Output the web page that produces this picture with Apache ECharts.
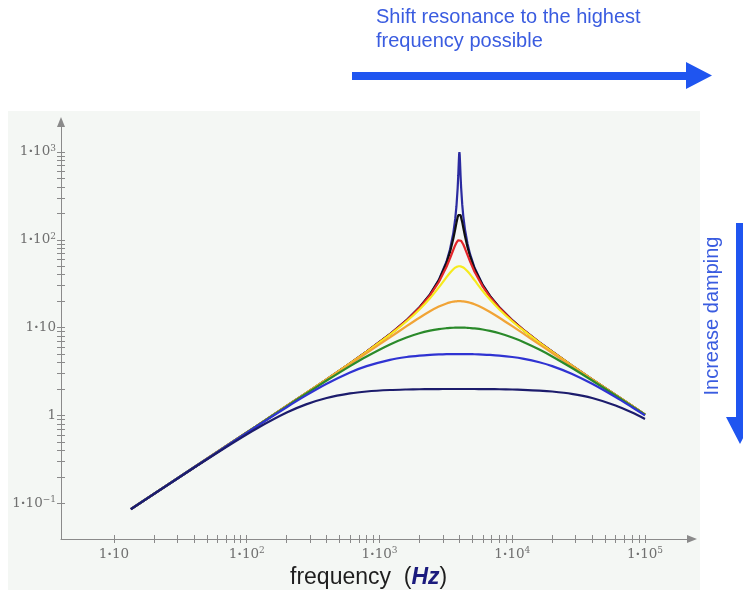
<!DOCTYPE html>
<html>
<head>
<meta charset="utf-8">
<script src="https://cdn.jsdelivr.net/npm/echarts@6/dist/echarts.min.js"></script>
<style>html,body{margin:0;padding:0;background:#fff;}#c{width:743px;height:590px;}</style>
</head>
<body>
<div id="c"></div>
<script>
// Frequencies (Hz)
const freq = [13.4, 20, 40, 80, 120, 200, 280, 400, 600, 800, 1200, 1600, 2000, 2400, 2800, 3200, 3400, 3600, 3720, 3800, 3880, 3920, 3960, 3980, 4000, 4020, 4040, 4080, 4120, 4200, 4280, 4400, 4600, 4800, 5200, 6000, 6800, 8000, 10000, 12000, 16000, 20000, 28000, 40000, 60000, 80000, 100000];

// Response curves, from least to most damping
const peak1000 = [0.0855, 0.1276, 0.2552, 0.5106, 0.7663, 1.279, 1.795, 2.578, 3.916, 5.317, 8.413, 12.15, 17.01, 23.92, 35.01, 56.62, 77.93, 120.0, 173.0, 241.3, 386.3, 534.0, 785.7, 930.6, 1000, 931.5, 788.7, 541.7, 396.3, 252.9, 185.2, 132.5, 90.63, 69.43, 48.03, 30.61, 22.95, 17.01, 12.15, 9.570, 6.805, 5.317, 3.722, 2.578, 1.709, 1.279, 1.022];
const peak200 = [0.0855, 0.1276, 0.2552, 0.5106, 0.7663, 1.279, 1.795, 2.578, 3.915, 5.315, 8.406, 12.13, 16.95, 23.76, 34.50, 54.56, 72.81, 103.5, 132.0, 155.9, 180.5, 190.7, 197.6, 199.4, 200, 199.4, 197.6, 191.0, 181.5, 158.9, 137.2, 111.1, 82.83, 65.73, 46.75, 30.27, 22.81, 16.95, 12.13, 9.559, 6.801, 5.315, 3.721, 2.578, 1.709, 1.279, 1.022];
const peak100 = [0.0855, 0.1276, 0.2552, 0.5106, 0.7663, 1.279, 1.795, 2.577, 3.913, 5.309, 8.384, 12.06, 16.77, 23.27, 33.06, 49.33, 61.58, 77.05, 86.91, 92.78, 97.27, 98.77, 99.69, 99.92, 100, 99.92, 99.69, 98.81, 97.42, 93.40, 88.33, 80.07, 67.30, 57.12, 43.33, 29.28, 22.37, 16.77, 12.06, 9.527, 6.790, 5.309, 3.719, 2.577, 1.709, 1.279, 1.022];
const peak50 = [0.0855, 0.1276, 0.2552, 0.5106, 0.7662, 1.279, 1.794, 2.574, 3.904, 5.287, 8.297, 11.81, 16.11, 21.58, 28.69, 37.51, 42.12, 46.20, 48.09, 49.02, 49.65, 49.85, 49.96, 49.99, 50, 49.99, 49.96, 49.85, 49.67, 49.11, 48.33, 46.83, 43.82, 40.61, 34.66, 26.12, 20.86, 16.11, 11.81, 9.399, 6.743, 5.287, 3.711, 2.574, 1.708, 1.279, 1.022];
const peak20 = [0.0855, 0.1276, 0.2552, 0.5104, 0.7657, 1.277, 1.788, 2.557, 3.843, 5.138, 7.755, 10.39, 12.96, 15.35, 17.37, 18.86, 19.38, 19.73, 19.87, 19.94, 19.98, 19.99, 20.00, 20.00, 20, 20.00, 20.00, 19.99, 19.98, 19.94, 19.89, 19.78, 19.54, 19.22, 18.47, 16.75, 15.08, 12.96, 10.39, 8.633, 6.443, 5.138, 3.659, 2.557, 1.703, 1.277, 1.021];
const peak10 = [0.0855, 0.1276, 0.2551, 0.5099, 0.7640, 1.269, 1.767, 2.496, 3.646, 4.694, 6.438, 7.722, 8.621, 9.226, 9.616, 9.848, 9.919, 9.966, 9.984, 9.992, 9.997, 9.999, 10.0, 10.0, 10, 10.0, 10.0, 9.999, 9.997, 9.993, 9.986, 9.972, 9.940, 9.898, 9.790, 9.506, 9.168, 8.621, 7.722, 6.914, 5.626, 4.694, 3.488, 2.496, 1.685, 1.269, 1.017];
const peak5 = [0.0855, 0.1276, 0.2549, 0.5080, 0.7574, 1.239, 1.690, 2.291, 3.083, 3.642, 4.298, 4.624, 4.797, 4.894, 4.950, 4.981, 4.990, 4.996, 4.998, 4.999, 5.000, 5.000, 5.000, 5.000, 5, 5.000, 5.000, 5.000, 5.000, 4.999, 4.998, 4.997, 4.993, 4.987, 4.973, 4.935, 4.886, 4.797, 4.624, 4.432, 4.029, 3.642, 2.986, 2.291, 1.617, 1.239, 1.002];
const peak2 = [0.0854, 0.1273, 0.2532, 0.4947, 0.7156, 1.078, 1.336, 1.580, 1.781, 1.872, 1.946, 1.974, 1.986, 1.993, 1.997, 1.999, 2.000, 2.000, 2.000, 2.000, 2.000, 2.000, 2.000, 2.000, 2, 2.000, 2.000, 2.000, 2.000, 2.000, 2.000, 2.000, 2.000, 1.999, 1.998, 1.996, 1.993, 1.986, 1.974, 1.958, 1.919, 1.872, 1.762, 1.580, 1.299, 1.078, 0.9104];

const seriesValues = [peak1000, peak200, peak100, peak50, peak20, peak10, peak5, peak2];
const seriesColors = ['#2b2ba0', '#111111', '#e3262a', '#f6ea1e', '#f1a436', '#2a8a2a', '#2f33d2', '#1c1c6c'];

// Axis labels
const xLabelValues = [10, 100, 1000, 10000, 100000];
const xLabelTexts = ['{b|1}{d|·}{b|10}', '{b|1}{d|·}{b|10}{s|2}', '{b|1}{d|·}{b|10}{s|3}', '{b|1}{d|·}{b|10}{s|4}', '{b|1}{d|·}{b|10}{s|5}'];
const yLabelValues = [0.1, 1, 10, 100, 1000];
const yLabelTexts = ['{b|1}{d|·}{b|10}{s|−1}', '{b|1}', '{b|1}{d|·}{b|10}', '{b|1}{d|·}{b|10}{s|2}', '{b|1}{d|·}{b|10}{s|3}'];

// Tick positions (1..9 per decade)
const xTicks = [];
for (let d = 1; d <= 4; d++) for (let k = 1; k <= 9; k++) xTicks.push(k * Math.pow(10, d));
xTicks.push(100000);
const yTicks = [];
for (let d = -1; d <= 2; d++) for (let k = 1; k <= 9; k++) yTicks.push(k * Math.pow(10, d));
yTicks.push(1000);

const axisGray = '#8a8a8a';
const labelColor = '#707070';
const labelRich = {
  b: { fontFamily: 'DejaVu Serif', fontSize: 13.5, color: labelColor, lineHeight: 16 },
  d: { fontFamily: 'DejaVu Serif', fontSize: 13.5, fontWeight: 'bold', color: labelColor, lineHeight: 16 },
  s: { fontFamily: 'DejaVu Serif', fontSize: 9, color: labelColor, lineHeight: 8, verticalAlign: 'top' }
};
function labelFor(values, texts) {
  return function (v) {
    const e = Math.round(Math.log10(v));
    for (let i = 0; i < values.length; i++) {
      if (Math.round(Math.log10(values[i])) === e) return texts[i];
    }
    return '';
  };
}

const X_MIN = 3.99, X_MAX = 226000, Y_MIN = 0.03912, Y_MAX = 2196;

const chart = echarts.init(document.getElementById('c'), null, { renderer: 'canvas' });
chart.setOption({
  animation: false,
  backgroundColor: '#ffffff',
  grid: { left: 61, top: 122, right: 51, bottom: 51, containLabel: false },
  xAxis: [
    {
      type: 'log', min: X_MIN, max: X_MAX, position: 'bottom',
      axisLine: { show: true, symbol: ['none', 'triangle'], symbolSize: [8, 10], lineStyle: { color: axisGray, width: 1 } },
      axisTick: { show: false },
      axisLabel: { show: true, customValues: xLabelValues, margin: 7, formatter: labelFor(xLabelValues, xLabelTexts), rich: labelRich },
      splitLine: { show: false }, minorTick: { show: false }
    },
    {
      type: 'log', min: X_MIN, max: X_MAX, position: 'bottom', offset: -4,
      axisLine: { show: false },
      axisTick: { show: true, customValues: xTicks, length: 8, inside: false, lineStyle: { color: axisGray } },
      axisLabel: { show: false }, splitLine: { show: false }
    }
  ],
  yAxis: [
    {
      type: 'log', min: Y_MIN, max: Y_MAX, position: 'left',
      axisLine: { show: true, symbol: ['none', 'triangle'], symbolSize: [8, 10], lineStyle: { color: axisGray, width: 1 } },
      axisTick: { show: false },
      axisLabel: { show: true, customValues: yLabelValues, margin: 5, formatter: labelFor(yLabelValues, yLabelTexts), rich: labelRich },
      splitLine: { show: false }, minorTick: { show: false }
    },
    {
      type: 'log', min: Y_MIN, max: Y_MAX, position: 'left', offset: -4,
      axisLine: { show: false },
      axisTick: { show: true, customValues: yTicks, length: 8, inside: false, lineStyle: { color: axisGray } },
      axisLabel: { show: false }, splitLine: { show: false }
    }
  ],
  series: seriesValues.map(function (vals, i) {
    return {
      type: 'line',
      xAxisIndex: 0, yAxisIndex: 0,
      data: freq.map(function (f, j) { return [f, vals[j]]; }),
      showSymbol: false,
      smooth: i < 3 ? false : 0.3,
      lineStyle: { color: seriesColors[i], width: 2.2 },
      itemStyle: { color: seriesColors[i] },
      z: 2 + i
    };
  }),
  graphic: [
    { type: 'rect', z: -10, silent: true, shape: { x: 8, y: 111, width: 692, height: 479 }, style: { fill: '#f4f7f4' } },
    { type: 'polygon', z: 10, silent: true,
      shape: { points: [[352, 72], [686, 72], [686, 62], [712, 75.5], [686, 89], [686, 80], [352, 80]] },
      style: { fill: '#1f55f0' } },
    { type: 'polygon', z: 10, silent: true,
      shape: { points: [[736, 223], [744, 223], [744, 417], [754, 417], [740, 444], [726, 417], [736, 417]] },
      style: { fill: '#1f55f0' } },
    { type: 'text', z: 10, silent: true, x: 376, y: 5.5,
      style: { text: 'Shift resonance to the highest\nfrequency possible', fontFamily: 'Liberation Sans', fontSize: 20, lineHeight: 24, fill: '#3a5ce0', align: 'left', verticalAlign: 'top' } },
    { type: 'text', z: 10, silent: true, x: 712, y: 316, rotation: Math.PI / 2,
      style: { text: 'Increase damping', fontFamily: 'Liberation Sans', fontSize: 20, fill: '#3a5ce0', align: 'center', verticalAlign: 'middle' } },
    { type: 'text', z: 10, silent: true, x: 290, y: 578,
      style: {
        text: '{t|frequency}{p|  (}{h|Hz}{p|)}',
        align: 'left', verticalAlign: 'middle',
        rich: {
          t: { fontFamily: 'Liberation Sans', fontSize: 23, fill: '#1e1e1e' },
          p: { fontFamily: 'Liberation Sans', fontSize: 23, fill: '#1e1e1e' },
          h: { fontFamily: 'Liberation Sans', fontSize: 23, fontWeight: 'bold', fontStyle: 'italic', fill: '#1b1b7d' }
        }
      } }
  ]
});
</script>
</body>
</html>
